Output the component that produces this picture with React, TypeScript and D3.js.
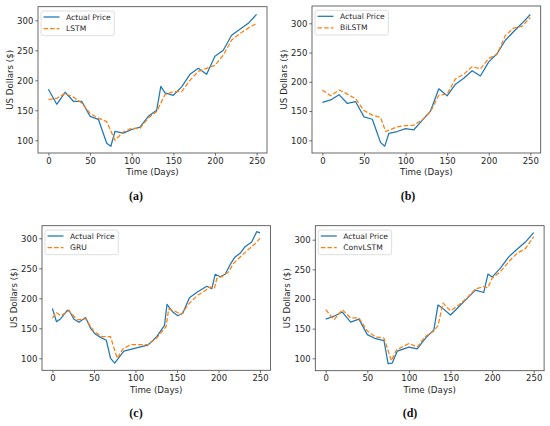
import { useEffect, useRef } from "react";
import * as d3 from "d3";

type Pt = [number, number];

const X_TICKS = [0, 50, 100, 150, 200, 250];
const Y_TICKS = [100, 150, 200, 250, 300];
const X_DOMAIN: [number, number] = [-12.5, 262.5];

const CAPTIONS = ["(a)", "(b)", "(c)", "(d)"];
const MODEL_NAMES = ["LSTM", "BiLSTM", "GRU", "ConvLSTM"];
const ACTUAL_LABEL = "Actual Price";

// (a) LSTM
const actualA: Pt[] = [
  [0, 185], [10, 160], [20, 180], [30, 165], [40, 165], [50, 140], [60, 135], [70, 95], [75, 90],
  [80, 115], [90, 112], [100, 118], [110, 122], [120, 140], [130, 150], [135, 190], [140, 179],
  [150, 175], [160, 189], [170, 210], [180, 220], [190, 210], [200, 240], [210, 250], [220, 275],
  [230, 285], [240, 295], [250, 310],
];
const predA: Pt[] = [
  [0, 168], [10, 170], [20, 178], [30, 172], [40, 162], [50, 145], [60, 137], [70, 131], [80, 100],
  [90, 114], [100, 120], [110, 120], [120, 137], [130, 148], [140, 176], [150, 181], [160, 181],
  [170, 200], [180, 215], [190, 220], [200, 225], [210, 242], [220, 267], [230, 278], [240, 287],
  [250, 295],
];

// (b) BiLSTM
const actualB: Pt[] = [
  [0, 165], [10, 169], [20, 178], [30, 163], [40, 166], [50, 140], [60, 136], [70, 96], [75, 90],
  [80, 112], [90, 115], [100, 120], [110, 118], [120, 134], [130, 150], [140, 188], [150, 176],
  [160, 196], [170, 206], [180, 219], [190, 210], [200, 234], [210, 248], [220, 271], [230, 286],
  [240, 300], [250, 315],
];
const predB: Pt[] = [
  [0, 186], [10, 176], [20, 186], [30, 179], [40, 171], [50, 151], [60, 143], [70, 139], [76, 115],
  [90, 123], [100, 125], [110, 126], [120, 135], [130, 149], [140, 177], [150, 179], [160, 205],
  [170, 213], [180, 226], [190, 222], [200, 240], [210, 247], [220, 279], [230, 292], [240, 295],
  [250, 310],
];

// (c) GRU
const actualC: Pt[] = [
  [0, 183], [5, 161], [10, 166], [18, 180], [20, 180], [26, 165], [32, 160], [40, 168], [46, 150],
  [52, 140], [59, 134], [65, 130], [70, 100], [75, 92], [86, 112], [106, 119], [115, 122], [125, 135],
  [135, 155], [138, 190], [145, 177], [151, 171], [157, 175], [165, 201], [175, 211], [186, 220],
  [192, 216], [196, 240], [202, 236], [208, 240], [214, 256], [220, 269], [226, 275], [232, 286],
  [240, 294], [246, 311], [250, 309],
];
const predC: Pt[] = [
  [0, 167], [5, 176], [10, 171], [20, 179], [30, 164], [40, 166], [50, 145], [60, 136], [70, 136],
  [78, 100], [85, 116], [95, 123], [105, 123], [115, 123], [125, 133], [137, 153], [140, 182],
  [147, 179], [155, 173], [165, 192], [175, 205], [185, 214], [190, 219], [195, 216], [198, 233],
  [204, 236], [212, 244], [218, 258], [230, 274], [244, 291], [250, 300],
];

// (d) ConvLSTM
const actualD: Pt[] = [
  [0, 166], [10, 171], [20, 178], [30, 161], [40, 166], [50, 140], [60, 133], [70, 130], [75, 91],
  [80, 92], [86, 112], [100, 119], [110, 116], [120, 134], [130, 148], [135, 190], [140, 185],
  [150, 173], [160, 187], [170, 201], [180, 215], [190, 211], [195, 242], [200, 237], [210, 252],
  [220, 271], [230, 284], [240, 296], [250, 312],
];
const predD: Pt[] = [
  [0, 182], [10, 165], [20, 182], [30, 168], [40, 168], [50, 146], [60, 136], [70, 134], [79, 96],
  [85, 114], [100, 125], [110, 119], [120, 137], [130, 146], [135, 155], [141, 193], [150, 180],
  [160, 190], [170, 202], [180, 217], [190, 221], [195, 219], [200, 235], [210, 246], [220, 263],
  [230, 277], [240, 285], [250, 305],
];

const ACTUALS = [actualA, actualB, actualC, actualD];
const PREDS = [predA, predB, predC, predD];
const Y_DOMAINS: [number, number][] = [[78.8, 322.7], [78.3, 329.6], [80, 321], [79.1, 323.6]];

// axes boxes in page pixels: left, right, top, bottom, caption x, caption y
const BOXES = [
  { l: 38, r: 267, t: 6.7, b: 153, cx: 136, cy: 200 },
  { l: 312, r: 540.7, t: 6, b: 153, cx: 408, cy: 200 },
  { l: 42, r: 270.4, t: 225.7, b: 370.3, cx: 136, cy: 417 },
  { l: 315.3, r: 544.1, t: 225.7, b: 370.7, cx: 410, cy: 417 },
];

const BLUE = "#1f77b4";
const ORANGE = "#ff7f0e";
const FONT = "DejaVu Sans, sans-serif";

export default function App() {
  const svgRef = useRef<SVGSVGElement | null>(null);

  useEffect(() => {
    if (!svgRef.current) return;
    const svg = d3.select(svgRef.current);
    svg.selectAll("*").remove();
    svg.append("rect").attr("width", 550).attr("height", 426).attr("fill", "#fff");

    BOXES.forEach((box, i) => {
      const x = d3.scaleLinear().domain(X_DOMAIN).range([box.l, box.r]);
      const y = d3.scaleLinear().domain(Y_DOMAINS[i]).range([box.b, box.t]);
      const g = svg.append("g");

      const line = d3.line<Pt>().x((d) => x(d[0])).y((d) => y(d[1]));

      const clipId = `clip-${i}`;
      g.append("clipPath").attr("id", clipId).append("rect")
        .attr("x", box.l).attr("y", box.t).attr("width", box.r - box.l).attr("height", box.b - box.t);

      const plot = g.append("g").attr("clip-path", `url(#${clipId})`);
      plot.append("path").datum(ACTUALS[i]).attr("d", line as any)
        .attr("fill", "none").attr("stroke", BLUE).attr("stroke-width", 1.25).attr("stroke-linejoin", "round");
      plot.append("path").datum(PREDS[i]).attr("d", line as any)
        .attr("fill", "none").attr("stroke", ORANGE).attr("stroke-width", 1.25)
        .attr("stroke-dasharray", "4.6,2").attr("stroke-linejoin", "round");

      const xAxis = g.append("g").attr("transform", `translate(0,${box.b})`)
        .call(d3.axisBottom(x).tickValues(X_TICKS).tickSize(2.7).tickPadding(2).tickFormat((d) => String(d)));
      const yAxis = g.append("g").attr("transform", `translate(${box.l},0)`)
        .call(d3.axisLeft(y).tickValues(Y_TICKS).tickSize(2.7).tickPadding(2).tickFormat((d) => String(d)));
      [xAxis, yAxis].forEach((ax) => {
        ax.select(".domain").remove();
        ax.selectAll("line").attr("stroke", "#333").attr("stroke-width", 0.7);
        ax.selectAll("text").attr("font-family", FONT).attr("font-size", 8.5).attr("fill", "#262626");
      });

      g.append("rect").attr("x", box.l).attr("y", box.t)
        .attr("width", box.r - box.l).attr("height", box.b - box.t)
        .attr("fill", "none").attr("stroke", "#444").attr("stroke-width", 0.8);

      g.append("text").attr("x", (box.l + box.r) / 2).attr("y", box.b + 22.3)
        .attr("text-anchor", "middle").attr("font-family", FONT).attr("font-size", 8.7).attr("fill", "#262626")
        .text("Time (Days)");

      const ly = (box.t + box.b) / 2;
      g.append("text").attr("transform", `translate(${box.l - 25.3},${ly}) rotate(-90)`)
        .attr("text-anchor", "middle").attr("font-family", FONT).attr("font-size", 8.7).attr("fill", "#262626")
        .text("US Dollars ($)");

      // legend
      const lg = g.append("g").attr("transform", `translate(${box.l + 3},${box.t + 4.3})`);
      lg.append("rect").attr("width", 73.3).attr("height", 24.7).attr("rx", 2)
        .attr("fill", "#fff").attr("fill-opacity", 0.8).attr("stroke", "#d6d6d6").attr("stroke-width", 0.8);
      const items = [
        { label: ACTUAL_LABEL, color: BLUE, dash: null as string | null },
        { label: MODEL_NAMES[i], color: ORANGE, dash: "4.6,2" },
      ];
      items.forEach((it, k) => {
        const ry = 6 + k * 11.5;
        const ln = lg.append("line").attr("x1", 2.5).attr("x2", 18.5).attr("y1", ry).attr("y2", ry)
          .attr("stroke", it.color).attr("stroke-width", 1.25);
        if (it.dash) ln.attr("stroke-dasharray", it.dash);
        lg.append("text").attr("x", 25).attr("y", ry + 2.7)
          .attr("font-family", FONT).attr("font-size", 7.6).attr("fill", "#262626").text(it.label);
      });

      svg.append("text").attr("x", box.cx).attr("y", box.cy).attr("text-anchor", "middle")
        .attr("font-family", "Liberation Serif, serif").attr("font-weight", "bold").attr("font-size", 12)
        .attr("fill", "#111").text(CAPTIONS[i]);
    });
  }, []);

  return (
    <svg
      ref={svgRef}
      width={550}
      height={426}
      style={{ position: "absolute", left: 0, top: 0, display: "block" }}
    />
  );
}
